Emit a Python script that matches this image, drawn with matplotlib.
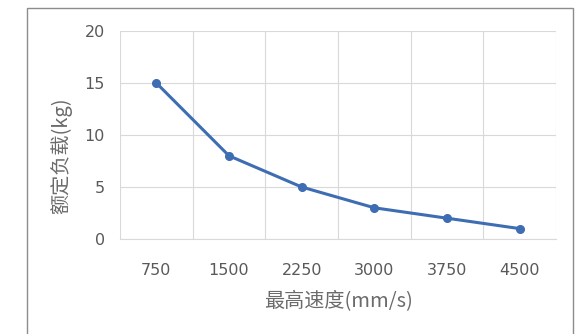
import numpy as np
import matplotlib.pyplot as plt
from matplotlib.patches import Rectangle

plt.rcParams['font.family'] = ['Noto Sans CJK SC', 'DejaVu Sans']

speeds = ['750', '1500', '2250', '3000', '3750', '4500']
loads = [15, 8, 5, 3, 2, 1]
y_ticks = [0, 5, 10, 15, 20]

LINE = '#3e6db3'
GRID = '#d9d9d9'
TEXT = '#595959'

fig = plt.figure(figsize=(5.81, 3.34), dpi=100)
# outer chart frame
fig.patches.append(Rectangle((27 / 581, -0.05), 546 / 581, 1.05 - 8 / 334,
                             transform=fig.transFigure, fill=False,
                             edgecolor='#8c8c8c', linewidth=1.0))

ax = fig.add_axes([120 / 581, 1 - 239 / 334, 436 / 581, 208 / 334])
x = np.arange(len(speeds))
ax.plot(x, loads, color=LINE, linewidth=2.2, marker='o', markersize=5.5,
        solid_capstyle='round', solid_joinstyle='round', zorder=3)

ax.set_xlim(-0.5, len(speeds) - 0.5)
ax.set_ylim(0, 20)
ax.set_yticks(y_ticks)
ax.set_xticks(x)
ax.set_xticklabels(speeds)
ax.set_xticks(np.arange(-0.5, len(speeds)), minor=True)
ax.grid(True, which='minor', axis='x', color=GRID, linewidth=0.8)
ax.grid(True, which='major', axis='y', color=GRID, linewidth=0.8)
ax.tick_params(which='both', length=0)
for lab in ax.get_xticklabels() + ax.get_yticklabels():
    lab.set_family('DejaVu Sans')
ax.tick_params(axis='x', pad=17, labelsize=11.5, labelcolor=TEXT)
ax.tick_params(axis='y', pad=11, labelsize=11.5, labelcolor=TEXT)
for s in ax.spines.values():
    s.set_visible(False)
ax.spines['bottom'].set_visible(True)
ax.spines['bottom'].set_color(GRID)
ax.spines['bottom'].set_linewidth(0.8)
ax.set_axisbelow(True)

ax.set_xlabel('最高速度(mm/s)', fontsize=14.5, color='#6b6b6b', labelpad=10)
ax.set_ylabel('额定负载(kg)', fontsize=14.5, color='#6b6b6b')
ax.yaxis.set_label_coords(-0.11, 0.40)

fig.savefig('out.png', dpi=100)
